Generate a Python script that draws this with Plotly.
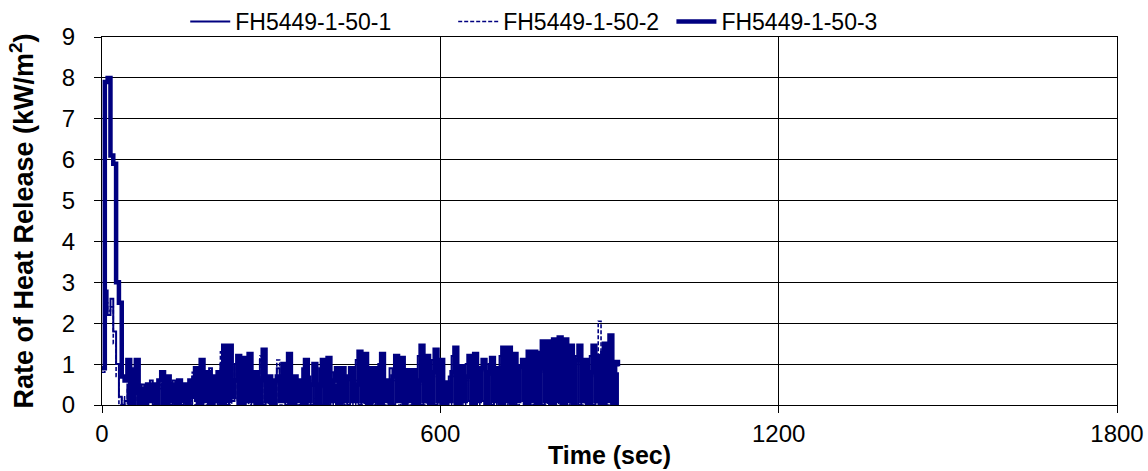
import plotly.graph_objects as go

STEP = 5  # seconds between samples

names = ["FH5449-1-50-1", "FH5449-1-50-2", "FH5449-1-50-3"]

hrr_1 = [
    0.9, 2.8, 2.2, 2.6, 1.8, 1.0, 0.2, 0.0, 0.1, 0.5,
    0.9, 0.0, 0.6, 0.2, 0.5, 0.0, 0.4, 0.6, 0.0, 0.3,
    0.5, 0.0, 0.6, 0.4, 0.0, 0.6, 0.2, 0.4, 0.0, 0.5,
    0.3, 0.0, 0.7, 0.1, 0.8, 0.0, 0.6, 0.2, 0.9, 0.0,
    0.6, 0.0, 1.0, 1.2, 0.0, 0.9, 0.1, 1.0, 0.0, 0.8,
    0.0, 1.0, 0.2, 0.6, 0.0, 0.5, 1.1, 0.0, 0.5, 0.1,
    0.5, 0.0, 0.9, 0.1, 0.8, 0.0, 0.9, 0.6, 0.0, 0.5,
    0.2, 0.9, 0.0, 0.7, 0.0, 0.8, 0.3, 0.9, 0.0, 0.6,
    0.0, 0.8, 0.5, 0.0, 0.7, 0.1, 0.6, 0.0, 0.8, 0.2,
    1.1, 0.0, 0.9, 0.2, 0.7, 0.0, 0.8, 0.1, 1.0, 0.0,
    0.5, 0.2, 0.9, 0.0, 1.0, 0.1, 0.7, 0.0, 0.7, 0.1,
    0.0, 0.5, 1.2, 0.0, 1.0, 0.2, 0.6, 1.1, 0.0, 0.9,
    0.0, 0.5, 0.1, 0.7, 1.2, 0.0, 0.8, 0.1, 0.6, 1.0,
    0.1, 1.0, 0.0, 0.7, 0.9, 0.1, 0.6, 1.0, 0.0, 0.8,
    0.1, 1.2, 0.0, 1.2, 0.1, 1.0, 0.0, 0.8, 0.9, 0.1,
    1.1, 0.0, 1.1, 0.2, 0.7, 1.3, 0.0, 1.3, 0.1, 1.3,
    0.0, 1.4, 0.1, 1.3, 0.0, 1.2, 0.1, 0.9, 1.2, 0.0,
    0.9, 0.1, 0.7, 1.2, 0.0, 1.0, 0.1, 1.3, 0.0, 1.4,
    0.1, 0.9, 0.0, 0.8,
]

hrr_2 = [
    0.8, 2.5, 2.3, 2.4, 1.5, 0.7, 0.0, 0.2, 0.0, 0.4,
    0.0, 0.7, 0.1, 0.5, 0.0, 0.4, 0.1, 0.5, 0.2, 0.0,
    0.4, 0.7, 0.1, 0.5, 0.0, 0.4, 0.1, 0.6, 0.0, 0.3,
    0.5, 0.1, 0.8, 0.0, 0.9, 0.2, 0.7, 0.0, 0.6, 0.1,
    0.7, 0.1, 1.3, 0.0, 1.3, 0.0, 0.5, 1.0, 0.1, 0.9,
    0.1, 1.1, 0.0, 0.7, 0.1, 0.5, 1.2, 0.0, 0.6, 0.0,
    0.5, 0.1, 1.1, 0.0, 0.9, 0.1, 1.1, 0.0, 0.6, 0.0,
    0.5, 0.1, 1.0, 0.0, 0.6, 0.9, 0.1, 0.4, 1.0, 0.1,
    1.0, 0.0, 0.5, 0.8, 0.1, 0.8, 0.0, 0.6, 0.8, 0.0,
    0.6, 1.2, 0.0, 1.1, 0.1, 0.8, 0.0, 0.8, 0.1, 1.1,
    0.0, 0.5, 0.1, 0.6, 1.1, 0.0, 1.0, 0.1, 0.8, 0.0,
    0.7, 0.1, 0.5, 1.3, 0.0, 1.1, 0.1, 0.7, 1.2, 0.0,
    1.0, 0.1, 0.5, 0.0, 0.7, 1.3, 0.1, 0.9, 0.0, 0.6,
    1.1, 0.1, 1.1, 0.0, 0.8, 1.0, 0.1, 0.7, 1.1, 0.0,
    0.8, 0.1, 1.3, 0.0, 1.3, 0.1, 1.1, 0.0, 0.9, 1.0,
    0.1, 1.2, 0.0, 1.2, 0.1, 0.8, 1.4, 0.0, 1.4, 0.1,
    1.5, 0.0, 1.5, 0.1, 1.5, 0.0, 1.3, 0.1, 1.0, 1.3,
    0.0, 1.0, 0.1, 0.7, 1.3, 0.0, 2.05, 0.1, 1.4, 0.0,
    1.6, 0.1, 1.0, 0.9,
]

hrr_3 = [
    0.9, 7.9, 8.0, 6.1, 5.9, 3.0, 2.5, 0.7, 0.6, 1.1,
    0.0, 0.3, 1.1, 0.0, 0.4, 0.0, 0.5, 0.1, 0.5, 0.0,
    0.6, 0.8, 0.0, 0.7, 0.1, 0.5, 0.0, 0.6, 0.1, 0.5,
    0.0, 0.6, 0.2, 0.9, 0.0, 1.1, 0.1, 0.8, 0.0, 0.7,
    0.1, 0.8, 0.0, 1.45, 0.1, 1.45, 0.2, 0.6, 1.2, 0.0,
    1.15, 0.1, 1.25, 0.1, 0.8, 0.0, 0.6, 1.35, 0.1, 0.7,
    0.0, 0.6, 0.7, 0.1, 1.0, 0.1, 1.25, 0.0, 0.7, 0.1,
    0.6, 0.0, 1.1, 0.1, 0.5, 1.0, 0.0, 0.5, 1.1, 0.0,
    1.15, 0.1, 0.6, 0.9, 0.0, 0.9, 0.1, 0.7, 0.9, 0.1,
    0.5, 1.3, 0.1, 1.25, 0.0, 0.9, 0.1, 0.9, 0.0, 1.25,
    0.1, 0.6, 0.0, 0.7, 1.2, 0.1, 1.15, 0.0, 0.85, 0.1,
    0.85, 0.0, 0.6, 1.45, 0.1, 1.2, 0.0, 0.8, 1.35, 0.1,
    1.1, 0.0, 0.55, 0.1, 0.8, 1.4, 0.0, 0.95, 0.1, 0.7,
    1.2, 0.0, 1.25, 0.1, 0.9, 1.1, 0.0, 0.8, 1.15, 0.1,
    0.9, 0.0, 1.4, 0.1, 1.4, 0.0, 1.25, 0.1, 0.95, 1.1,
    0.0, 1.3, 0.1, 1.3, 0.0, 0.9, 1.55, 0.1, 1.55, 0.0,
    1.6, 0.1, 1.65, 0.0, 1.6, 0.1, 1.45, 0.0, 1.1, 1.45,
    0.1, 1.1, 0.0, 0.8, 1.45, 0.1, 1.2, 0.0, 1.5, 0.1,
    1.7, 0.0, 1.05, 0.95,
]

x_ticks = [0, 600, 1200, 1800]
y_ticks = [0, 1, 2, 3, 4, 5, 6, 7, 8, 9]

NAVY = "#000080"
FONT = "Liberation Sans, Arial, sans-serif"

series = [
    (names[0], hrr_1, dict(color=NAVY, width=2, dash="solid"), "legend", 0.082),
    (names[1], hrr_2, dict(color=NAVY, width=1.6, dash="4px,2px"), "legend2", 0.346),
    (names[2], hrr_3, dict(color=NAVY, width=4.5, dash="solid"), "legend3", 0.561),
]

fig = go.Figure()
legend_layout = {}
for name, vals, line, leg, lx in series:
    t = [STEP * i for i in range(len(vals))]
    fig.add_trace(go.Scatter(x=t, y=vals, mode="lines", name=name, line=line,
                             line_shape="hv", legend=leg))
    legend_layout[leg] = dict(
        orientation="h",
        x=lx,
        xanchor="left",
        y=1.1005,
        yanchor="top",
        font=dict(family=FONT, size=23, color="black"),
        bgcolor="rgba(0,0,0,0)",
        itemwidth=40,
    )

fig.update_layout(
    width=1148,
    height=471,
    margin=dict(l=102, r=31, t=37, b=66, autoexpand=False),
    paper_bgcolor="white",
    plot_bgcolor="white",
    font=dict(family=FONT, size=24, color="black"),
    showlegend=True,
    **legend_layout,
    xaxis=dict(
        range=[0, 1800],
        tickmode="array",
        tickvals=x_ticks,
        ticktext=[str(v) for v in x_ticks],
        tickfont=dict(family=FONT, size=24, color="black"),
        showgrid=True,
        gridcolor="black",
        gridwidth=1,
        showline=True,
        linecolor="black",
        linewidth=1,
        mirror=True,
        ticks="outside",
        ticklen=7,
        tickcolor="black",
        zeroline=False,
        title=dict(text="<b>Time (sec)</b>", font=dict(family=FONT, size=25), standoff=0),
    ),
    yaxis=dict(
        range=[0, 9],
        tickmode="array",
        tickvals=y_ticks,
        ticktext=[str(v) for v in y_ticks],
        tickfont=dict(family=FONT, size=24, color="black"),
        showgrid=True,
        gridcolor="black",
        gridwidth=1,
        showline=True,
        linecolor="black",
        linewidth=1,
        mirror=True,
        ticks="outside",
        ticklen=7,
        tickcolor="black",
        zeroline=False,
        ticklabelstandoff=14,
        title=dict(text="<b>Rate of Heat Release (kW/m<sup>2</sup>)</b>", font=dict(family=FONT, size=27), standoff=20),
    ),
)

# remove the browser's default 8px page margin so the figure fills the window exactly
fig.write_html(
    "out.html",
    config={"displayModeBar": False},
    post_script="document.body.style.margin='0';document.body.style.overflow='hidden';",
)
